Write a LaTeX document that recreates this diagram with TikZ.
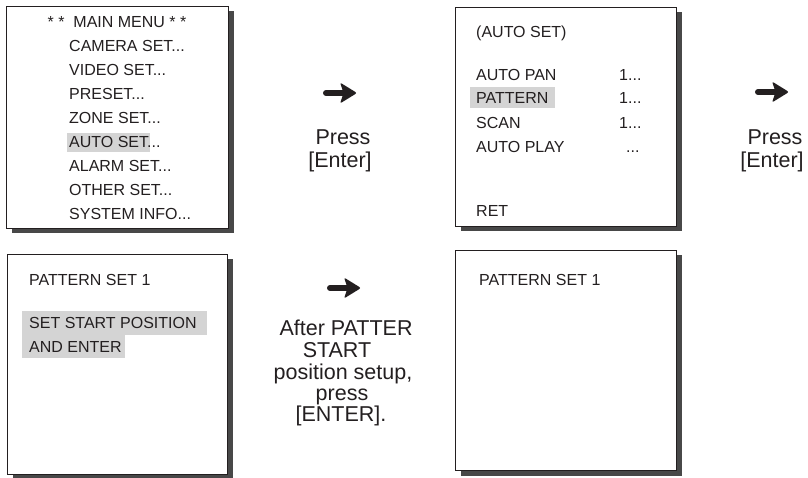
\documentclass[tikz,border=0pt]{standalone}
\usepackage{fontspec}
\setmainfont{Liberation Sans}
\usetikzlibrary{shadows}
\definecolor{inkc}{RGB}{35,31,32}
\definecolor{shadowc}{RGB}{72,72,72}
\definecolor{hlc}{RGB}{212,212,212}
\tikzset{
  menubox/.style={draw=inkc, line width=1pt, fill=white, inner sep=0pt, anchor=north west,
    drop shadow={shadow xshift=5pt, shadow yshift=-5pt, fill=shadowc, opacity=1}},
  hl/.style={fill=hlc, draw=none},
  mtext/.style={font=\fontsize{16}{18}\selectfont, text=inkc, inner sep=0pt, anchor=base west},
  mtextc/.style={mtext, anchor=base},
  lab/.style={font=\fontsize{21.5}{23}\selectfont, text=inkc, inner sep=0pt, anchor=base},
  fatarrow/.pic={
    \draw[inkc, line width=6pt, line cap=round] (3,0) -- (24,0);
    \fill[inkc, rounded corners=2pt] (17,-10.5) -- (34,0) -- (17,10.5) -- (20.5,0) -- cycle;
  }
}
\begin{document}
\begin{tikzpicture}[x=1pt, y=-1pt]
\useasboundingbox (0,0) rectangle (808,478);
% boxes
\node[menubox, minimum width=222pt, minimum height=222pt] (b1) at (6,6) {};
\node[menubox, minimum width=221pt, minimum height=219pt] (b2) at (455,7) {};
\node[menubox, minimum width=220pt, minimum height=220pt] (b3) at (7,254) {};
\node[menubox, minimum width=221pt, minimum height=220pt] (b4) at (455,250) {};
% highlights
\fill[hl] (67,133) rectangle (150,152);
\fill[hl] (470,87) rectangle (555,108);
\fill[hl] (22,311) rectangle (207,335);
\fill[hl] (22,335) rectangle (125,358);
% box 1
\node[mtextc] (t0) at (117,27.5) {* *\ \ MAIN MENU * *};
\node[mtext] (t1) at (69,52) {CAMERA SET...};
\node[mtext] (t2) at (69,75.5) {VIDEO SET...};
\node[mtext] (t3) at (69,99.5) {PRESET...};
\node[mtext] (t4) at (69,123.5) {ZONE SET...};
\node[mtext] (t5) at (69,148) {AUTO SET...};
\node[mtext] (t6) at (69,172) {ALARM SET...};
\node[mtext] (t7) at (69,196) {OTHER SET...};
\node[mtext] (t8) at (69,219.5) {SYSTEM INFO...};
% box 2
\node[mtext] (u0) at (476,37.5) {(AUTO SET)};
\node[mtext] (u1) at (476,80.5) {AUTO PAN};
\node[mtext] (u2) at (476,104) {PATTERN};
\node[mtext] (u3) at (476,128.5) {SCAN};
\node[mtext] (u4) at (476,152.5) {AUTO PLAY};
\node[mtext] (u5) at (476,216.5) {RET};
\node[mtext] (v1) at (619,80.5) {1...};
\node[mtext] (v2) at (619,104) {1...};
\node[mtext] (v3) at (619,128.5) {1...};
\node[mtext] (v4) at (626,152.5) {...};
% box 3
\node[mtext] (w0) at (29,285.5) {PATTERN SET 1};
\node[mtext] (w1) at (29,328.5) {SET START POSITION};
\node[mtext] (w2) at (29,352.5) {AND ENTER};
% box 4
\node[mtext] (x0) at (479,285.5) {PATTERN SET 1};
% arrows
\pic (arr1) at (323,93) {fatarrow};
\pic (arr2) at (755,92) {fatarrow};
\pic (arr3) at (327,288) {fatarrow};
% labels
\node[lab] (l1a) at (343,144.5) {Press};
\node[lab] (l1b) at (340,167.5) {[Enter]};
\node[lab] (l2a) at (775,144.5) {Press};
\node[lab] (l2b) at (772,167.5) {[Enter]};
\node[lab] (l3a) at (346,335.5) {After PATTER};
\node[lab] (l3b) at (337,357.5) {START};
\node[lab] (l3c) at (343,379.5) {position setup,};
\node[lab] (l3d) at (342,400.5) {press};
\node[lab] (l3e) at (341,421.5) {[ENTER].};
\end{tikzpicture}
\end{document}
